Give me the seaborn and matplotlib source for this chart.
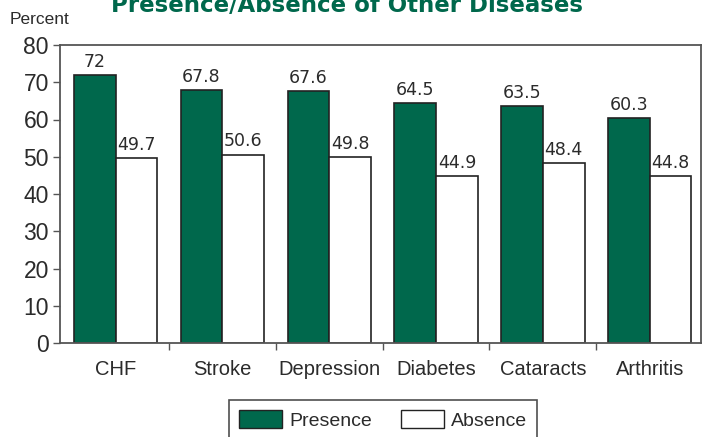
import matplotlib
matplotlib.use("Agg")
import matplotlib.pyplot as plt
import seaborn as sns
import pandas as pd
from matplotlib.patches import Patch

categories = ["CHF", "Stroke", "Depression", "Diabetes", "Cataracts", "Arthritis"]
presence = [72, 67.8, 67.6, 64.5, 63.5, 60.3]
absence = [49.7, 50.6, 49.8, 44.9, 48.4, 44.8]
presence_labels = ["72", "67.8", "67.6", "64.5", "63.5", "60.3"]
absence_labels = ["49.7", "50.6", "49.8", "44.9", "48.4", "44.8"]
series = ["Presence", "Absence"]
yticks = [0, 10, 20, 30, 40, 50, 60, 70, 80]

GREEN = "#00684C"
TEXT = "#2b2b2b"
EDGE = "#222222"

sns.set_theme(style="white")
plt.rcParams["font.family"] = ["Liberation Sans", "DejaVu Sans"]

df = pd.DataFrame({
    "Disease": categories * 2,
    "Status": ["Presence"] * len(categories) + ["Absence"] * len(categories),
    "Percent": presence + absence,
})

fig = plt.figure(figsize=(7.02, 4.37), dpi=100)
ax = fig.add_axes([60 / 702, 1 - 343 / 437, 641 / 702, 298 / 437])

sns.barplot(data=df, x="Disease", y="Percent", hue="Status", order=categories,
            hue_order=series, palette={"Presence": GREEN, "Absence": "white"},
            width=0.78, edgecolor=EDGE, linewidth=1.2, saturation=1, ax=ax,
            legend=False)

for cont, labs in zip(ax.containers, [presence_labels, absence_labels]):
    ax.bar_label(cont, labels=labs, padding=3, fontsize=12.5, color=TEXT,
                 family="DejaVu Sans")

ax.set_ylim(0, 80)
ax.set_xlim(-0.52, len(categories) - 0.52)
ax.set_yticks(yticks)
ax.set_yticklabels([str(t) for t in yticks], fontsize=16.5, color=TEXT)
ax.tick_params(axis="y", direction="out", length=5, width=1, color="#555555", pad=3, left=True)
ax.set_xticks(range(len(categories)))
ax.set_xticklabels(categories, fontsize=14.5, color=TEXT)
ax.tick_params(axis="x", which="major", length=0, pad=12)
ax.set_xticks([i + 0.5 for i in range(len(categories) - 1)], minor=True)
ax.tick_params(axis="x", which="minor", direction="out", length=5, width=1, color="#555555", bottom=True)
ax.set_xlabel("")
ax.set_ylabel("")
for s in ax.spines.values():
    s.set_visible(True)
    s.set_color("#555555")
    s.set_linewidth(1.3)

fig.text(10 / 702, 1 - 19 / 437, "Percent", fontsize=12.5, color=TEXT, va="center", ha="left")
fig.text(347 / 702, 1 - 6 / 437, "Presence/Absence of Other Diseases", fontsize=16.5,
         fontweight="bold", color=GREEN, ha="center", va="center", family="DejaVu Sans")

handles = [Patch(facecolor=GREEN, edgecolor=EDGE, label="Presence"),
           Patch(facecolor="white", edgecolor=EDGE, label="Absence")]
leg = fig.legend(handles=handles, ncol=2, loc="lower center",
                 bbox_to_anchor=(383 / 702, -13 / 437), frameon=True, fontsize=14,
                 handlelength=2.2, handleheight=1.0, columnspacing=1.5, fancybox=False,
                 borderpad=0.55, handletextpad=0.35)
leg.get_frame().set_edgecolor("#222222")
leg.get_frame().set_linewidth(1.2)
for t in leg.get_texts():
    t.set_color(TEXT)

fig.savefig("out.png", dpi=100)
